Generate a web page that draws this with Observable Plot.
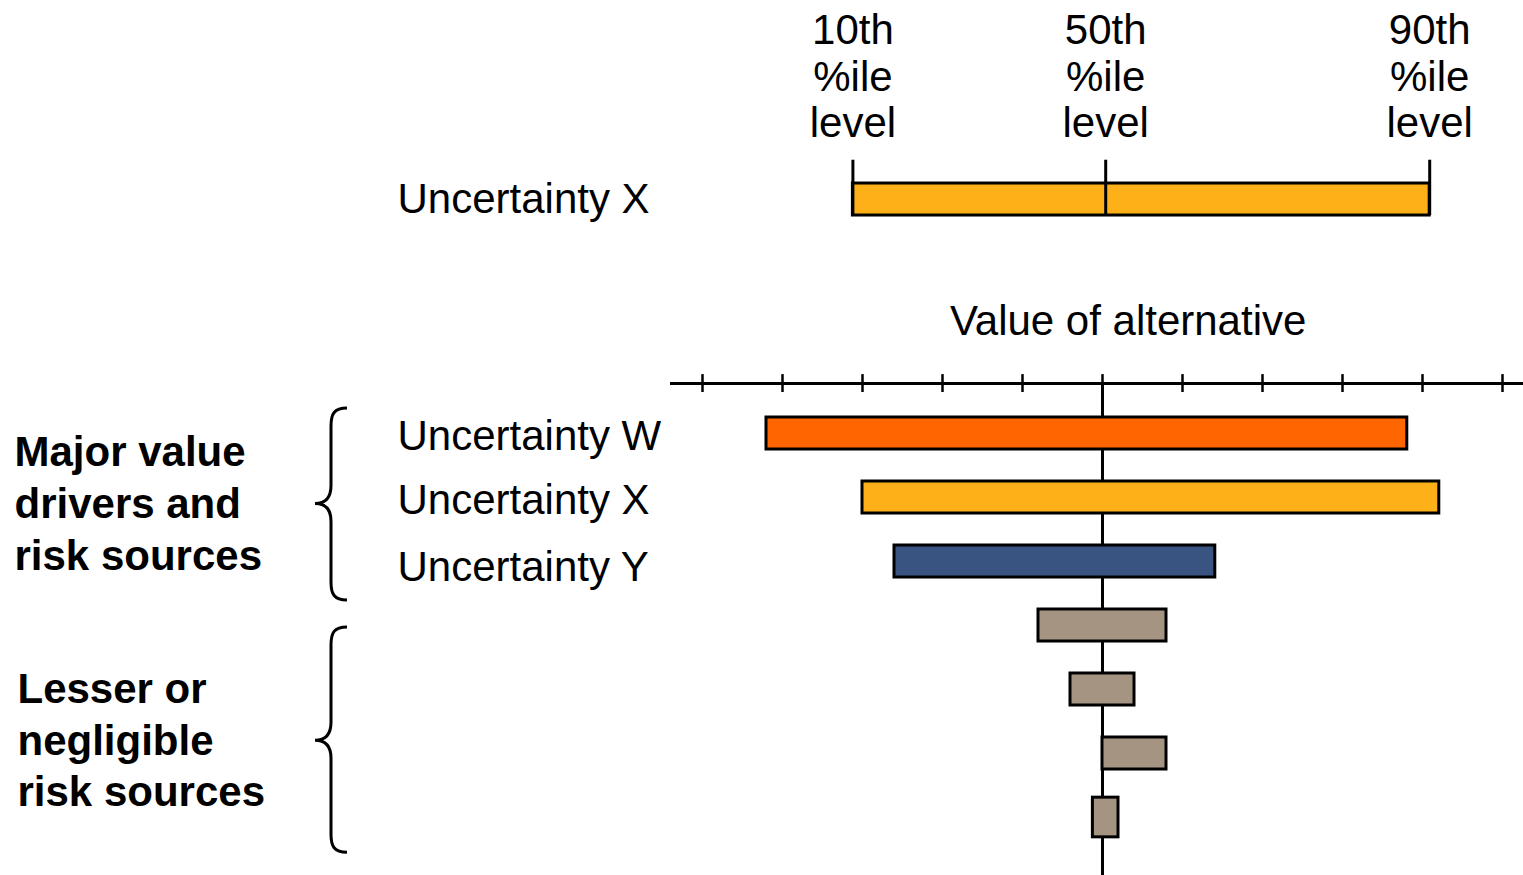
<!DOCTYPE html>
<html>
<head>
<meta charset="utf-8">
<script src="https://cdn.jsdelivr.net/npm/d3@7"></script>
<script src="https://cdn.jsdelivr.net/npm/@observablehq/plot@0.6"></script>
<style>
  html, body { margin: 0; padding: 0; background: #fff; }
  #chart svg { display: block; }
</style>
</head>
<body>
<div id="chart"></div>
<script>
// ---- data ----
const uncertainties = ["Uncertainty W", "Uncertainty X", "Uncertainty Y", "Minor 1", "Minor 2", "Minor 3", "Minor 4"];
const showLabel     = [true, true, true, false, false, false, false];
const lowValues     = [-4.2, -3.0, -2.6, -0.8, -0.4, 0.0, -0.12];
const highValues    = [ 3.81, 4.21, 1.41, 0.8, 0.4, 0.8, 0.2];
const barColors     = ["#FF6600", "#FDB018", "#3A5482", "#A69483", "#A69483", "#A69483", "#A69483"];

// illustrative percentile bar
const legendName        = "Uncertainty X";
const percentileLabels  = ["10th\n%ile\nlevel", "50th\n%ile\nlevel", "90th\n%ile\nlevel"];
const percentileValues  = [-3.12, 0.04, 4.09];
const legendColor       = "#FDB018";

// axis
const axisTicks  = [-5, -4, -3, -2, -1, 0, 1, 2, 3, 4, 5];
const axisTitle  = "Value of alternative";

// groups of uncertainties
const groupLabels = ["Major value\ndrivers and\nrisk sources", "Lesser or\nnegligible\nrisk sources"];
const groupFirst  = [0, 3];
const groupLast   = [2, 6];

// ---- layout (row units along y, value units along x) ----
const barHalf = [0.25, 0.25, 0.25, 0.25, 0.25, 0.25, 0.31];   // half bar thickness per row
const labelShift = [0.04, 0.05, 0.09];                          // row label nudges
const HALF = 0.25;
const LEGEND_ROW = -3.656;
const AXIS_ROW = -0.78;
const TICK_HALF = 0.14;
const PCT_TICK_TOP = -4.27;
const PCT_LABEL_ROW = -5.59;
const AXIS_TITLE_ROW = -1.75;
const AXIS_TITLE_X = 0.32;
const AXIS_X1 = -5.4, AXIS_X2 = 5.4;
const CENTER_BOTTOM = 7;
const groupLabelRow = [1.06, 4.76];
const groupLabelDx = [14, 17];
const braceMid = [1.1, 4.8];
const bracePad = [[-0.39, 0.61], [0.03, 0.55]];

const rows = uncertainties.map((name, i) => ({
  name, row: i, low: lowValues[i], high: highValues[i], color: barColors[i],
  half: barHalf[i], label: showLabel[i], labelRow: i + (labelShift[i] || 0)
}));
const legendRow = [{name: legendName, row: LEGEND_ROW, low: percentileValues[0], high: percentileValues[2]}];
const pct = percentileValues.map((v, i) => ({x: v, text: percentileLabels[i]}));
const groups = groupLabels.map((t, i) => ({
  text: t, row: groupLabelRow[i], dx: groupLabelDx[i], mid: braceMid[i],
  top: groupFirst[i] + bracePad[i][0], bottom: groupLast[i] + bracePad[i][1]
}));

const FONT = "'Liberation Sans', Arial, Helvetica, sans-serif";

// curly braces drawn with the plot's y scale
function braces(index, scales) {
  const y = scales.y;
  const g = document.createElementNS("http://www.w3.org/2000/svg", "g");
  for (const d of groups) {
    const top = y(d.top), bot = y(d.bottom), mid = y(d.mid);
    const xv = 331, xt = 315, xh = 347, r = 18;
    const p = document.createElementNS("http://www.w3.org/2000/svg", "path");
    p.setAttribute("d",
      `M${xh},${top}C${xv + 3},${top} ${xv},${top + 6} ${xv},${top + r}` +
      `L${xv},${mid - r}C${xv},${mid - 6} ${xv - 5},${mid} ${xt},${mid}` +
      `C${xv - 5},${mid} ${xv},${mid + 6} ${xv},${mid + r}` +
      `L${xv},${bot - r}C${xv},${bot - 6} ${xv + 3},${bot} ${xh},${bot}`);
    p.setAttribute("fill", "none");
    p.setAttribute("stroke", "#000");
    p.setAttribute("stroke-width", 3);
    g.appendChild(p);
  }
  return g;
}

const chart = Plot.plot({
  width: 1523,
  height: 875,
  margin: 0,
  style: {fontFamily: FONT, background: "#fff", color: "#000"},
  x: {domain: [-5, 5], range: [702, 1502], axis: null},
  y: {domain: [0, 6], range: [433, 817], axis: null},
  marks: [
    // percentile illustration
    Plot.rect(legendRow, {x1: "low", x2: "high", y1: d => d.row - HALF, y2: d => d.row + HALF,
      fill: legendColor, stroke: "#000", strokeWidth: 3}),
    Plot.ruleX(pct, {x: "x", y1: PCT_TICK_TOP, y2: LEGEND_ROW + HALF, stroke: "#000", strokeWidth: 3}),
    Plot.text(pct, {x: "x", y: PCT_LABEL_ROW, text: "text", fontSize: 42, lineHeight: 1.1,
      textAnchor: "middle", fill: "#000"}),
    Plot.text(legendRow, {y: "row", text: "name", frameAnchor: "left", dx: 397, textAnchor: "start",
      fontSize: 42, fill: "#000"}),

    // axis
    Plot.text([axisTitle], {x: AXIS_TITLE_X, y: AXIS_TITLE_ROW, text: d => d, fontSize: 42, fill: "#000"}),
    Plot.ruleY([AXIS_ROW], {y: d => d, x1: AXIS_X1, x2: AXIS_X2, stroke: "#000", strokeWidth: 3}),
    Plot.ruleX(axisTicks, {x: d => d, y1: AXIS_ROW - TICK_HALF, y2: AXIS_ROW + TICK_HALF, stroke: "#000", strokeWidth: 2.5}),
    Plot.ruleX([0], {x: d => d, y1: AXIS_ROW, y2: CENTER_BOTTOM, stroke: "#000", strokeWidth: 3}),

    // tornado bars
    Plot.rect(rows, {x1: "low", x2: "high", y1: d => d.row - d.half, y2: d => d.row + d.half,
      fill: "color", stroke: "#000", strokeWidth: 3}),
    Plot.text(rows.filter(d => d.label), {y: "labelRow", text: "name", frameAnchor: "left", dx: 397,
      textAnchor: "start", fontSize: 42, fill: "#000"}),

    // groups
    braces,
    ...groups.map(g => Plot.text([g], {y: "row", text: "text", frameAnchor: "left", dx: g.dx,
      textAnchor: "start", fontSize: 42, fontWeight: "bold", lineHeight: 1.23, fill: "#000"}))
  ]
});

document.getElementById("chart").appendChild(chart);
</script>
</body>
</html>
